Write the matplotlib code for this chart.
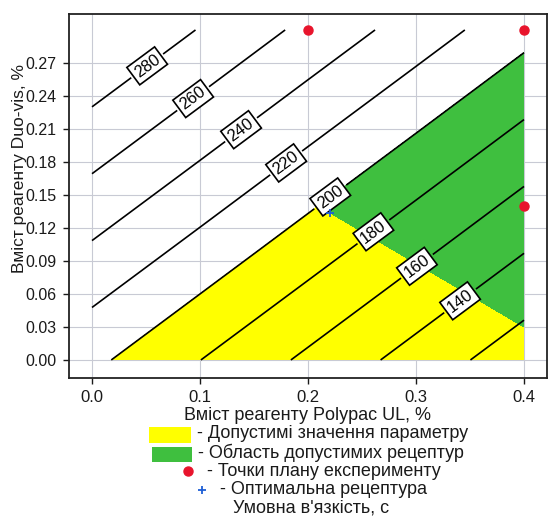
import numpy as np
import matplotlib
matplotlib.use("Agg")
import matplotlib.pyplot as plt
from matplotlib.patches import Rectangle
from matplotlib.lines import Line2D

plt.rcParams['font.family'] = ['Liberation Sans', 'DejaVu Sans']

# response surface: conditional viscosity (s) at the grid nodes
polypac = [0.0, 0.1, 0.2, 0.3, 0.4]      # Polypac UL, %
duovis = [0.0, 0.1, 0.2, 0.3]            # Duo-vis, %
viscosity = [
    [204.3, 180.2, 156.2, 132.1, 108.1],
    [237.2, 213.2, 189.1, 165.1, 141.0],
    [270.1, 246.1, 222.0, 198.0, 173.9],
    [303.0, 279.0, 254.9, 230.9, 206.8],
]
levels = [120, 140, 160, 180, 200, 220, 240, 260, 280]
limit = 200  # admissible viscosity upper bound

# border of the admissible recipes area (second constraint)
border_x = [0.22, 0.40]
border_y = [0.134, 0.030]

# experiment plan points and optimum
plan_x = [0.2, 0.4, 0.4]
plan_y = [0.3, 0.3, 0.14]
opt_x = [0.22]
opt_y = [0.134]

# where the isoline labels sit
label_pos = [(0.0506, 0.268), (0.0923, 0.2394), (0.1355, 0.2127), (0.180, 0.1788),
             (0.2204, 0.1485), (0.2605, 0.1166), (0.3006, 0.0855), (0.3407, 0.0539)]

YELLOW = "#ffff00"
GREEN = "#3fbf3f"
TXT = "#1a1a1a"

fig = plt.figure(figsize=(5.48, 5.18), dpi=100)
ax = fig.add_axes([69 / 548, 1 - 378 / 518, (547 - 69) / 548, (378 - 14) / 518])

# bilinear interpolation of the table on a fine grid (for the green area)
xf = np.linspace(polypac[0], polypac[-1], 801)
yf = np.linspace(duovis[0], duovis[-1], 601)
rows = np.array([np.interp(xf, polypac, r) for r in viscosity])
zf = np.array([np.interp(yf, duovis, rows[:, j]) for j in range(len(xf))]).T
XF, YF = np.meshgrid(xf, yf)
slope = (border_y[1] - border_y[0]) / (border_x[1] - border_x[0])
border = border_y[0] + slope * (XF - border_x[0])
ok = np.minimum(limit - zf, (YF - border) * 2000)

ax.contourf(polypac, duovis, viscosity, levels=[0, limit], colors=[YELLOW], zorder=1)
ax.contourf(xf, yf, ok, levels=[0, ok.max() + 1], colors=[GREEN], zorder=2)

cs = ax.contour(polypac, duovis, viscosity, levels=levels, colors="black",
                linewidths=1.2, zorder=3)
labels = ax.clabel(cs, fmt="%d", fontsize=12, inline=True, inline_spacing=8,
                   manual=label_pos)
for t in labels:
    t.set_color("black")
    t.set_bbox(dict(boxstyle="square,pad=0.2", fc="white", ec="black", lw=1.2))
    t.set_zorder(5)

ax.plot(plan_x, plan_y, "o", color="#e8142c", ms=6.5, zorder=6, clip_on=False)
ax.plot(opt_x, opt_y, "+", color="#1f5fd6", ms=6, mew=1.3, zorder=6)

ax.set_xlim(-0.0213, 0.4213)
ax.set_ylim(-0.0164, 0.3145)
ax.set_xticks(polypac)
ax.set_xticklabels(["%.1f" % v for v in polypac])
yt = [0.00, 0.03, 0.06, 0.09, 0.12, 0.15, 0.18, 0.21, 0.24, 0.27]
ax.set_yticks(yt)
ax.set_yticklabels(["%.2f" % v for v in yt])
ax.tick_params(axis="x", labelsize=12, length=4, width=1, pad=5, colors=TXT)
ax.tick_params(axis="y", labelsize=11.5, length=4, width=1, pad=5, colors=TXT)
ax.grid(True, color="#c8cad4", lw=0.8)
ax.set_axisbelow(True)
for s in ax.spines.values():
    s.set_linewidth(1.3)
    s.set_color("#222222")

ax.set_xlabel("Вміст реагенту Polypac UL, %", fontsize=13, color=TXT, labelpad=1)
ax.set_ylabel("Вміст реагенту Duo-vis, %", fontsize=12.5, color=TXT)
ax.yaxis.set_label_coords(-0.087, 0.575)

# legend block under the chart
def fx(px):
    return px / 548

def fy(py):
    return 1 - py / 518

fig.patches.append(Rectangle((fx(149), fy(443)), 42 / 548, 16 / 518, fc=YELLOW,
                             ec="none", transform=fig.transFigure))
fig.patches.append(Rectangle((fx(152), fy(462)), 40 / 548, 15 / 518, fc=GREEN,
                             ec="none", transform=fig.transFigure))
fig.add_artist(Line2D([fx(188)], [fy(471)], marker="o", color="#e8142c", ms=6.5,
                      transform=fig.transFigure))
fig.add_artist(Line2D([fx(202)], [fy(490)], marker="+", color="#1f5fd6", ms=6,
                      mew=1.3, transform=fig.transFigure))
legend_text = [
    (197, 433, "- Допустимі значення параметру"),
    (198, 453, "- Область допустимих рецептур"),
    (207, 471, "- Точки плану експерименту"),
    (220, 490, "- Оптимальна рецептура"),
    (233, 508, "Умовна в'язкість, с"),
]
for px, py, s in legend_text:
    fig.text(fx(px), fy(py), s, fontsize=13, color=TXT, ha="left", va="center")

fig.savefig("out.png", dpi=100)
